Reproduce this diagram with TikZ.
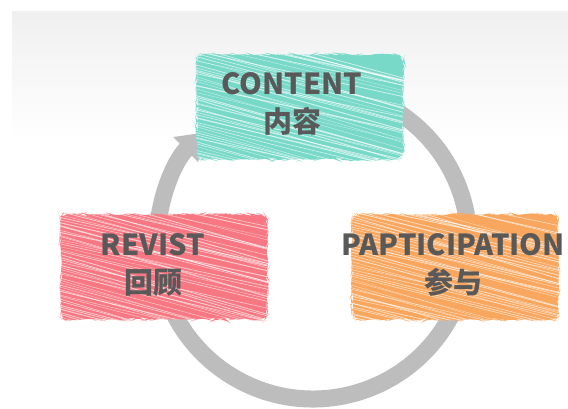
\documentclass[tikz,border=0pt]{standalone}
\usepackage{fontspec}
\newfontfamily\cjk{Noto Sans CJK SC}
\usetikzlibrary{arrows.meta,decorations.pathmorphing}
\definecolor{mint}{HTML}{78D9C9}
\definecolor{apricot}{HTML}{F9A75F}
\definecolor{rose}{HTML}{F77882}
\definecolor{ink}{HTML}{595959}
\definecolor{ringgray}{HTML}{BDBDBD}
\pgfmathsetseed{11}

\begin{document}
\begin{tikzpicture}[x=1pt,y=-1pt,
   sketchbox/.style={fill=#1, minimum width=206pt, minimum height=105pt, inner sep=0pt,
      rounded corners=7pt, decorate, decoration={random steps,segment length=4pt,amplitude=1.2pt},
      path picture={
         \foreach \k in {0,...,66}{
            \pgfmathsetmacro\yy{34-\k*2.5-2*rnd}
            \pgfmathsetmacro\ww{0.25+0.7*rnd}
            \pgfmathsetmacro\dd{48+22*rnd}
            \draw[decorate=false, white, line width=\ww pt, opacity=0.65, line cap=round]
               ([shift={(-6pt,\yy pt)}]path picture bounding box.north west) -- ++(230pt,-\dd pt);
         }
      }},
   caption/.style={font=\cjk\bfseries\fontsize{29}{38}\selectfont, text=ink, align=center}]
   \useasboundingbox (0,0) rectangle (568,409);
   \fill[white] (0,0) rectangle (568,409);
   \shade[top color=black!6, bottom color=white] (12,12) rectangle (568,140);

   \coordinate (hub) at (313,243);
   \draw[ringgray, line width=17pt, -{Triangle[width=34pt,length=24pt]}]
      ([shift={(-60:156)}]hub) arc[start angle=-60, end angle=225, radius=156];

   \node[sketchbox=mint, label={[caption, xshift=-8pt, yshift=3pt]center:CONTENT\\内容}] (content) at (300,107) {};
   \node[sketchbox=apricot, label={[caption, xshift=-2pt, yshift=2pt]center:PAPTICIPATION\\参与}] (partic) at (455,267) {};
   \node[sketchbox=rose, label={[caption, xshift=-11pt, yshift=2pt]center:REVIST\\回顾}] (revist) at (164,267) {};
\end{tikzpicture}
\end{document}
